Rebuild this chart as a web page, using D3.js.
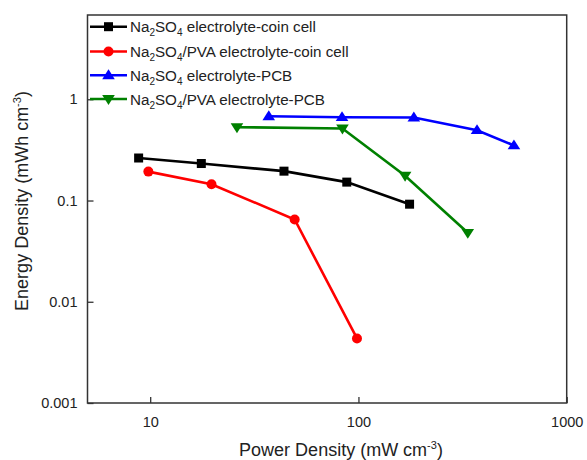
<!DOCTYPE html>
<html><head><meta charset="utf-8">
<script src="https://cdn.jsdelivr.net/npm/d3@7"></script>
<style>body{margin:0;background:#fff;} svg{display:block;font-family:"Liberation Sans",Arial,sans-serif;}</style>
</head><body>
<svg id="c" width="587" height="460"></svg>
<script>
const xTicks = [10, 100, 1000];
const yTicks = [0.001, 0.01, 0.1, 1];
const yTickLabels = ["0.001", "0.01", "0.1", "1"];

const blackX = [8.8, 17.6, 43.9, 87.9, 176];
const blackY = [0.263, 0.232, 0.195, 0.152, 0.092];
const redX = [9.8, 19.7, 49.4, 98.4];
const redY = [0.193, 0.145, 0.065, 0.00434];
const blueX = [37.1, 83.4, 184.5, 371, 558];
const blueY = [0.68, 0.665, 0.66, 0.495, 0.35];
const greenX = [26.1, 83.8, 167.5, 335];
const greenY = [0.53, 0.515, 0.176, 0.048];

const seriesNames = [
  ["Na", "2", "SO", "4", " electrolyte-coin cell"],
  ["Na", "2", "SO", "4", "/PVA electrolyte-coin cell"],
  ["Na", "2", "SO", "4", " electrolyte-PCB"],
  ["Na", "2", "SO", "4", "/PVA electrolyte-PCB"]
];
const seriesColors = ["#000000", "#ff0000", "#0000ff", "#008000"];
const seriesMarkers = ["square", "circle", "triangle", "down"];

const series = [
  {x: blackX, y: blackY},
  {x: redX, y: redY},
  {x: blueX, y: blueY},
  {x: greenX, y: greenY}
];

const svg = d3.select("#c");
const L = 87.5, R = 566.7, T = 15, B = 403;
const x = d3.scaleLog().domain([5, 1000]).range([L, R]);
const y = d3.scaleLog().domain([0.001, 6.8]).range([B, T]);

function marker(g, type, cx, cy, color) {
  if (type === "square") {
    g.append("rect").attr("x", cx - 4.5).attr("y", cy - 4.5).attr("width", 9).attr("height", 9).attr("fill", color);
  } else if (type === "circle") {
    g.append("circle").attr("cx", cx).attr("cy", cy).attr("r", 5).attr("fill", color);
  } else if (type === "triangle") {
    const s = 6;
    g.append("path").attr("d", `M${cx},${cy - s}L${cx + s * 1.05},${cy + s * 0.65}L${cx - s * 1.05},${cy + s * 0.65}Z`).attr("fill", color);
  } else {
    const s = 6;
    g.append("path").attr("d", `M${cx},${cy + s}L${cx + s * 1.05},${cy - s * 0.65}L${cx - s * 1.05},${cy - s * 0.65}Z`).attr("fill", color);
  }
}

// frame
svg.append("rect").attr("x", L).attr("y", T).attr("width", R - L).attr("height", B - T)
  .attr("fill", "none").attr("stroke", "#333").attr("stroke-width", 1.5);

// x axis
const xAxis = d3.axisBottom(x).tickValues(xTicks).tickSize(-6).tickPadding(14).tickFormat(d3.format("d"));
const gx = svg.append("g").attr("transform", `translate(0,${B})`).call(xAxis);
gx.select(".domain").remove();
gx.selectAll(".tick line").attr("stroke", "#333").attr("stroke-width", 1.3);
gx.selectAll(".tick text").attr("font-size", 14.5).attr("fill", "#222").attr("font-family", "Liberation Sans, Arial, sans-serif");

const yAxis = d3.axisLeft(y).tickValues(yTicks).tickSize(-6).tickPadding(10).tickFormat((d, i) => yTickLabels[i]);
const gy = svg.append("g").attr("transform", `translate(${L},0)`).call(yAxis);
gy.select(".domain").remove();
gy.selectAll(".tick line").attr("stroke", "#333").attr("stroke-width", 1.3);
gy.selectAll(".tick text").attr("font-size", 14.5).attr("fill", "#222").attr("font-family", "Liberation Sans, Arial, sans-serif");

// series
const line = d3.line().x(d => x(d[0])).y(d => y(d[1]));
series.forEach((s, i) => {
  const pts = s.x.map((v, j) => [v, s.y[j]]);
  const g = svg.append("g");
  g.append("path").attr("d", line(pts)).attr("fill", "none").attr("stroke", seriesColors[i]).attr("stroke-width", 2.6);
  pts.forEach(p => marker(g, seriesMarkers[i], x(p[0]), y(p[1]), seriesColors[i]));
});

// legend
const legY = [26.7, 51.5, 75.3, 99];
seriesNames.forEach((parts, i) => {
  const g = svg.append("g");
  const yy = legY[i];
  g.append("line").attr("x1", 90).attr("x2", 127).attr("y1", yy).attr("y2", yy).attr("stroke", seriesColors[i]).attr("stroke-width", 2.6);
  marker(g, seriesMarkers[i], 108.5, yy, seriesColors[i]);
  const t = g.append("text").attr("x", 130).attr("y", yy + 5.5).attr("font-size", 15.2).attr("fill", "#222");
  t.append("tspan").text(parts[0]);
  t.append("tspan").attr("font-size", 10).attr("dy", 4).text(parts[1]);
  t.append("tspan").attr("dy", -4).text(parts[2]);
  t.append("tspan").attr("font-size", 10).attr("dy", 4).text(parts[3]);
  t.append("tspan").attr("dy", -4).text(parts[4]);
});

// axis titles
const xt = svg.append("text").attr("x", 341).attr("y", 456).attr("text-anchor", "middle").attr("font-size", 18).attr("fill", "#222");
xt.append("tspan").text("Power Density (mW cm");
xt.append("tspan").attr("font-size", 11).attr("dy", -7).text("-3");
xt.append("tspan").attr("dy", 7).text(")");

const yt = svg.append("text").attr("transform", "translate(28,201) rotate(-90)").attr("text-anchor", "middle").attr("font-size", 18).attr("fill", "#222");
yt.append("tspan").text("Energy Density (mWh cm");
yt.append("tspan").attr("font-size", 11).attr("dy", -7).text("-3");
yt.append("tspan").attr("dy", 7).text(")");
</script>
</body></html>
